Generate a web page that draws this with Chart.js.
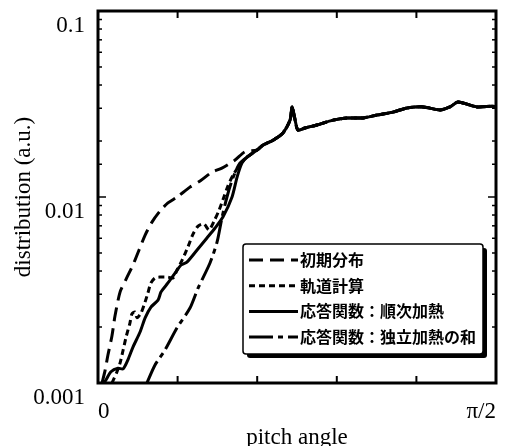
<!DOCTYPE html>
<html>
<head>
<meta charset="utf-8">
<script src="https://cdn.jsdelivr.net/npm/chart.js@4.4.1/dist/chart.umd.min.js"></script>
<style>
  html, body { margin: 0; padding: 0; background: #fff; }
  canvas { display: block; }
</style>
</head>
<body>
<canvas id="chart" width="509" height="446"></canvas>
<script>
const SERIES_LABELS = ['初期分布', '軌道計算', '応答関数：順次加熱', '応答関数：独立加熱の和'];

// pitch angle in radians, distribution in a.u.
const INITIAL_ANGLE = [0.016, 0.028, 0.039, 0.055, 0.067, 0.087, 0.111, 0.138, 0.162, 0.186, 0.213, 0.245, 0.276, 0.312, 0.363, 0.403, 0.450, 0.489, 0.541, 0.580, 0.628];
const INITIAL_VALUE = [0.00100, 0.00117, 0.00141, 0.00179, 0.00229, 0.00308, 0.00362, 0.00431, 0.00519, 0.00624, 0.00733, 0.00841, 0.00929, 0.0100, 0.0113, 0.0122, 0.0136, 0.0143, 0.0158, 0.0175, 0.0179];

const ORBIT_ANGLE = [0.055, 0.075, 0.087, 0.099, 0.111, 0.126, 0.134, 0.146, 0.154, 0.170, 0.186, 0.197, 0.209, 0.225, 0.245, 0.276, 0.296, 0.312, 0.332, 0.355, 0.375, 0.395, 0.418, 0.438, 0.458, 0.478, 0.497, 0.513, 0.533, 0.560, 0.588, 0.628];
const ORBIT_VALUE = [0.00100, 0.00115, 0.00128, 0.00150, 0.00177, 0.00210, 0.00235, 0.00241, 0.00224, 0.00238, 0.00273, 0.00305, 0.00345, 0.00367, 0.00371, 0.00371, 0.00367, 0.00405, 0.00458, 0.00539, 0.00632, 0.00698, 0.00716, 0.00665, 0.00741, 0.00851, 0.0100, 0.0115, 0.0131, 0.0149, 0.0164, 0.0179];

const SEQUENTIAL_ANGLE = [0.024, 0.032, 0.051, 0.079, 0.099, 0.118, 0.138, 0.166, 0.186, 0.209, 0.237, 0.249, 0.276, 0.304, 0.328, 0.351, 0.391, 0.430, 0.462, 0.493, 0.529, 0.549, 0.568, 0.588, 0.628];
const SEQUENTIAL_VALUE = [0.00100, 0.00104, 0.00115, 0.00120, 0.00119, 0.00133, 0.00156, 0.00188, 0.00224, 0.00256, 0.00279, 0.00309, 0.00345, 0.00390, 0.00431, 0.00447, 0.00519, 0.00602, 0.00681, 0.00780, 0.0100, 0.0128, 0.0152, 0.0164, 0.0179];

const INDEPENDENT_ANGLE = [0.193, 0.225, 0.264, 0.312, 0.363, 0.395, 0.442, 0.470, 0.489, 0.509, 0.529, 0.560, 0.600, 0.628];
const INDEPENDENT_VALUE = [0.00100, 0.00125, 0.00150, 0.00198, 0.00253, 0.00324, 0.00442, 0.00573, 0.00771, 0.0100, 0.0123, 0.0152, 0.0168, 0.0179];

// above ~0.63 rad all four curves run together
const TAIL_ANGLE = [0.651, 0.691, 0.730, 0.758, 0.766, 0.778, 0.789, 0.817, 0.864, 0.928, 0.983, 1.046, 1.101, 1.164, 1.220, 1.283, 1.350, 1.389, 1.421, 1.496, 1.555, 1.571];
const TAIL_VALUE = [0.0190, 0.0202, 0.0221, 0.0259, 0.0305, 0.0259, 0.0229, 0.0235, 0.0244, 0.0259, 0.0266, 0.0266, 0.0276, 0.0286, 0.0301, 0.0305, 0.0294, 0.0305, 0.0324, 0.0305, 0.0308, 0.0306];

const X_TICK_LABELS = ['0', 'π/2'];
const SERIF = '"Liberation Serif", "Times New Roman", serif';

function withTail(angles, values) {
  const xs = angles.concat(TAIL_ANGLE);
  const ys = values.concat(TAIL_VALUE);
  return xs.map((x, i) => ({ x, y: ys[i] }));
}

function isDecade(value) {
  const exp = Math.log10(value);
  return Math.abs(exp - Math.round(exp)) < 1e-9;
}

const lineStyle = {
  borderColor: '#000',
  borderWidth: 3,
  pointRadius: 0,
  tension: 0.25,
  fill: false,
  borderJoinStyle: 'round',
};

const datasets = [
  { label: SERIES_LABELS[0], data: withTail(INITIAL_ANGLE, INITIAL_VALUE), borderDash: [14, 7], ...lineStyle },
  { label: SERIES_LABELS[1], data: withTail(ORBIT_ANGLE, ORBIT_VALUE), borderDash: [6, 4], ...lineStyle },
  { label: SERIES_LABELS[2], data: withTail(SEQUENTIAL_ANGLE, SEQUENTIAL_VALUE), borderDash: [], ...lineStyle },
  { label: SERIES_LABELS[3], data: withTail(INDEPENDENT_ANGLE, INDEPENDENT_VALUE), borderDash: [24, 5, 5, 5], ...lineStyle },
];

// inward tick marks on all four sides plus the heavy frame
const frameTicks = {
  id: 'frameTicks',
  afterDraw(chart) {
    const { ctx, chartArea: a, scales: { x, y } } = chart;
    const seg = (x0, y0, x1, y1) => {
      ctx.beginPath();
      ctx.moveTo(x0, y0);
      ctx.lineTo(x1, y1);
      ctx.stroke();
    };
    ctx.save();
    ctx.strokeStyle = '#000';
    ctx.lineWidth = 1.5;
    for (const tick of y.ticks) {
      const py = y.getPixelForValue(tick.value);
      const len = isDecade(tick.value) ? 8 : 4;
      seg(a.left, py, a.left + len, py);
      seg(a.right, py, a.right - len, py);
    }
    ctx.lineWidth = 2;
    for (const tick of x.ticks) {
      const px = x.getPixelForValue(tick.value);
      seg(px, a.bottom, px, a.bottom - 7);
      seg(px, a.top, px, a.top + 7);
    }
    ctx.lineWidth = 3;
    ctx.strokeRect(a.left, a.top, a.right - a.left, a.bottom - a.top);
    ctx.restore();
  },
};

// boxed legend with a drop shadow, drawn inside the plot
const legendBox = {
  id: 'legendBox',
  afterDatasetsDraw(chart) {
    const { ctx } = chart;
    const left = 243, top = 244, width = 240, height = 110;
    ctx.save();
    ctx.fillStyle = '#000';
    ctx.beginPath();
    ctx.roundRect(left + 4, top + 4, width, height, 3);
    ctx.fill();
    ctx.fillStyle = '#fff';
    ctx.strokeStyle = '#000';
    ctx.lineWidth = 1.5;
    ctx.beginPath();
    ctx.roundRect(left, top, width, height, 3);
    ctx.fill();
    ctx.stroke();

    ctx.font = 'bold 16px "Noto Sans CJK JP", sans-serif';
    ctx.textBaseline = 'middle';
    ctx.fillStyle = '#000';
    chart.data.datasets.forEach((ds, i) => {
      const rowY = top + 16 + i * 25.7;
      ctx.lineWidth = 3;
      ctx.setLineDash(ds.borderDash || []);
      ctx.beginPath();
      ctx.moveTo(249, rowY);
      ctx.lineTo(298, rowY);
      ctx.stroke();
      ctx.setLineDash([]);
      ctx.fillText(ds.label, 300, rowY);
    });
    ctx.restore();
  },
};

new Chart(document.getElementById('chart'), {
  type: 'line',
  data: { datasets },
  options: {
    responsive: false,
    animation: false,
    layout: { padding: { top: 11, right: 13, left: 0, bottom: 0 } },
    plugins: {
      legend: { display: false },
      tooltip: { enabled: false },
    },
    scales: {
      x: {
        type: 'linear',
        min: 0,
        max: Math.PI / 2,
        grid: { display: false, drawTicks: false },
        border: { display: false },
        ticks: {
          count: 6,
          align: 'inner',
          autoSkip: false,
          maxRotation: 0,
          padding: 15,
          color: '#000',
          font: { family: SERIF, size: 23 },
          callback: (value, index, ticks) => {
            if (index === 0) return X_TICK_LABELS[0];
            if (index === ticks.length - 1) return X_TICK_LABELS[1];
            return '';
          },
        },
        title: {
          display: true,
          text: 'pitch angle',
          color: '#000',
          padding: { top: 0, bottom: -3 },
          font: { family: SERIF, size: 23, lineHeight: 1 },
        },
        afterFit: (scale) => {
          scale.height = 63;
          scale.paddingLeft = 0;
          scale.paddingRight = 0;
        },
      },
      y: {
        type: 'logarithmic',
        min: 0.001,
        max: 0.1,
        grid: { display: false, drawTicks: false },
        border: { display: false },
        ticks: {
          autoSkip: false,
          padding: 13,
          labelOffset: 15,
          color: '#000',
          font: { family: SERIF, size: 23, lineHeight: 0.9 },
          callback: (value) => (isDecade(value) ? String(value) : ''),
        },
        title: {
          display: true,
          text: 'distribution (a.u.)',
          color: '#000',
          padding: { top: 10, bottom: 0 },
          font: { family: SERIF, size: 23, lineHeight: 1.2 },
        },
        afterFit: (scale) => {
          scale.width = 98;
          scale.paddingTop = 0;
          scale.paddingBottom = 0;
        },
      },
    },
  },
  plugins: [legendBox, frameTicks],
});
</script>
</body>
</html>
